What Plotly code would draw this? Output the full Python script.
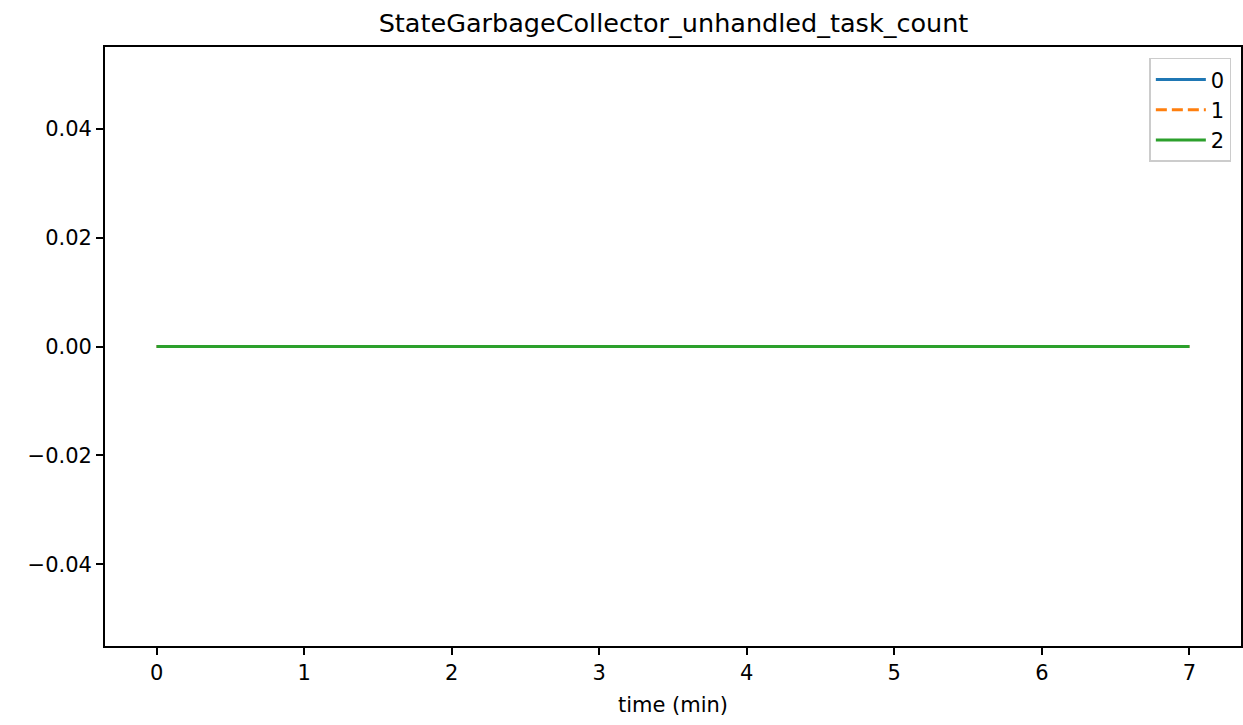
import plotly.graph_objects as go

time_min = [0, 0.5, 1, 1.5, 2, 2.5, 3, 3.5, 4, 4.5, 5, 5.5, 6, 6.5, 7]
series_names = ["0", "1", "2"]
series_0 = [0, 0, 0, 0, 0, 0, 0, 0, 0, 0, 0, 0, 0, 0, 0]
series_1 = [0, 0, 0, 0, 0, 0, 0, 0, 0, 0, 0, 0, 0, 0, 0]
series_2 = [0, 0, 0, 0, 0, 0, 0, 0, 0, 0, 0, 0, 0, 0, 0]
x_ticks = [0, 1, 2, 3, 4, 5, 6, 7]
y_ticks = [-0.04, -0.02, 0.0, 0.02, 0.04]
y_tick_labels = ["\u22120.04", "\u22120.02", "0.00", "0.02", "0.04"]

colors = ["#1f77b4", "#ff7f0e", "#2ca02c"]
dashes = ["solid", "11px,5px", "solid"]

fig = go.Figure()
for name, vals, col, dsh in zip(series_names, [series_0, series_1, series_2], colors, dashes):
    fig.add_trace(go.Scatter(x=time_min, y=vals, mode="lines", name=name,
                             line=dict(color=col, width=3.1, dash=dsh)))

font = "DejaVu Sans, sans-serif"
fig.update_layout(
    width=1243, height=725,
    margin=dict(l=105, r=0, t=47, b=79),
    paper_bgcolor="white", plot_bgcolor="white",
    font=dict(family=font, size=21, color="black"),
    title=dict(text="StateGarbageCollector_unhandled_task_count", x=(106 + 1241) / 2 / 1243,
               xanchor="center", y=1 - 23 / 725, yanchor="middle",
               font=dict(size=25.5, family=font, color="black")),
    showlegend=True,
    legend=dict(x=0.9915, xanchor="right", y=0.982, yanchor="top",
                bordercolor="#cccccc", borderwidth=1.5, bgcolor="rgba(255,255,255,0.8)",
                font=dict(size=21, family=font), itemwidth=50, tracegroupgap=0),
)
fig.update_xaxes(range=[-0.35, 7.35], tickvals=x_ticks, ticktext=[str(v) for v in x_ticks],
                 showgrid=False, zeroline=False, showline=True, linecolor="black", linewidth=1.7,
                 mirror=True, ticks="outside", ticklen=7, tickwidth=1.7, tickcolor="black",
                 tickfont=dict(size=21, family=font),
                 title=dict(text="time (min)", font=dict(size=21, family=font), standoff=13))
fig.update_yaxes(range=[-0.055, 0.055], tickvals=y_ticks, ticktext=y_tick_labels,
                 showgrid=False, zeroline=False, showline=True, linecolor="black", linewidth=1.7,
                 mirror=True, ticks="outside", ticklen=7, tickwidth=1.7, tickcolor="black",
                 tickfont=dict(size=21, family=font))
fig.write_html("out.html", config={"displayModeBar": False},
               post_script="document.body.style.margin='0';")
